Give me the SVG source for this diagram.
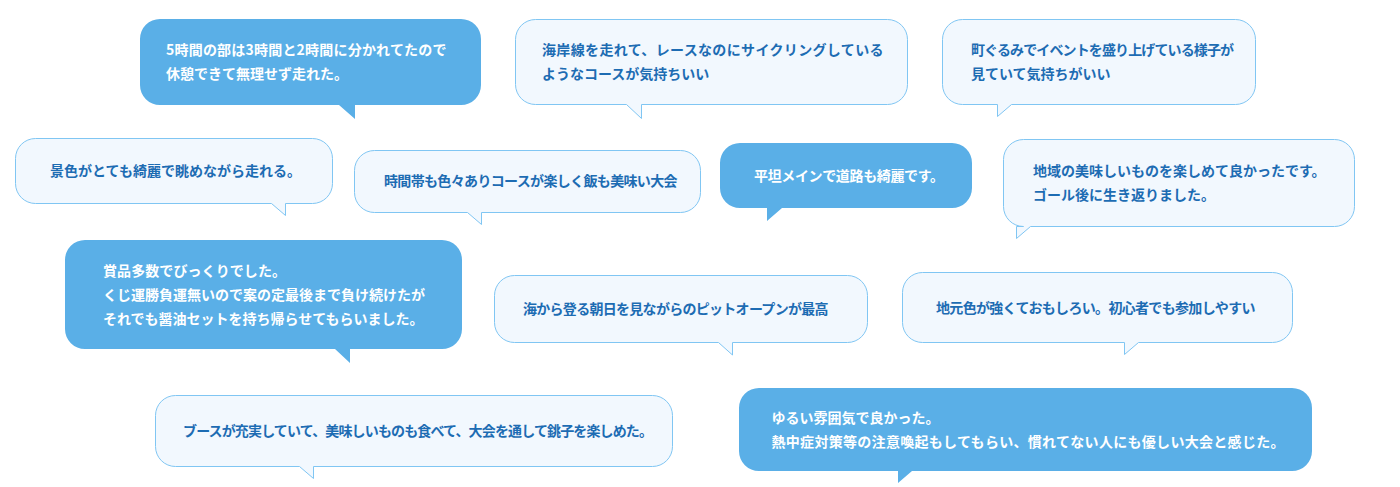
<svg xmlns="http://www.w3.org/2000/svg" width="1400" height="487" viewBox="0 0 1400 487">
<style>
.dk{fill:#5aafe7;stroke:none}
.lt{fill:#f2f8fe;stroke:#80c6f3;stroke-width:1}
text{font-family:"Noto Sans CJK JP","Noto Sans CJK SC",sans-serif;font-size:14px;font-weight:700}
.tw{fill:#ffffff}
.tb{fill:#1d6cb3}
</style>
<rect width="1400" height="487" fill="#ffffff"/>
<g id="b1">
<path class="dk" d="M160,19 H461 A20,20 0 0 1 481,39 V85 A20,20 0 0 1 461,105 H355 V119 L339,105 H160 A20,20 0 0 1 140,85 V39 A20,20 0 0 1 160,19 Z"/>
<text class="tw" x="166" y="55" textLength="280.5" lengthAdjust="spacing">5時間の部は3時間と2時間に分かれてたので</text>
<text class="tw" x="166" y="79">休憩できて無理せず走れた。</text>
</g>
<g id="b2">
<path class="lt" d="M535.5,19.5 H887.5 A20,20 0 0 1 907.5,39.5 V84.5 A20,20 0 0 1 887.5,104.5 H641.5 V118.5 L626.5,104.5 H535.5 A20,20 0 0 1 515.5,84.5 V39.5 A20,20 0 0 1 535.5,19.5 Z"/>
<text class="tb" x="542" y="55" textLength="341.5" lengthAdjust="spacing">海岸線を走れて、レースなのにサイクリングしている</text>
<text class="tb" x="542" y="79">ようなコースが気持ちいい</text>
</g>
<g id="b3">
<path class="lt" d="M962.5,19.5 H1235.5 A20,20 0 0 1 1255.5,39.5 V84.5 A20,20 0 0 1 1235.5,104.5 H1011.5 L997.5,116.5 V104.5 H962.5 A20,20 0 0 1 942.5,84.5 V39.5 A20,20 0 0 1 962.5,19.5 Z"/>
<text class="tb" x="971" y="55" textLength="263" lengthAdjust="spacing">町ぐるみでイベントを盛り上げている様子が</text>
<text class="tb" x="971" y="79">見ていて気持ちがいい</text>
</g>
<g id="b4">
<path class="lt" d="M35.5,138.5 H312.5 A20,20 0 0 1 332.5,158.5 V183.5 A20,20 0 0 1 312.5,203.5 H285.5 V215.5 L271.5,203.5 H35.5 A20,20 0 0 1 15.5,183.5 V158.5 A20,20 0 0 1 35.5,138.5 Z"/>
<text class="tb" x="50" y="176">景色がとても綺麗で眺めながら走れる。</text>
</g>
<g id="b5">
<path class="lt" d="M374.5,150.5 H680.5 A20,20 0 0 1 700.5,170.5 V192.5 A20,20 0 0 1 680.5,212.5 H481.5 V224.5 L467.5,212.5 H374.5 A20,20 0 0 1 354.5,192.5 V170.5 A20,20 0 0 1 374.5,150.5 Z"/>
<text class="tb" x="384" y="186" textLength="293.5" lengthAdjust="spacing">時間帯も色々ありコースが楽しく飯も美味い大会</text>
</g>
<g id="b6">
<path class="dk" d="M740,143 H952 A20,20 0 0 1 972,163 V188 A20,20 0 0 1 952,208 H782 L767,221 V208 H740 A20,20 0 0 1 720,188 V163 A20,20 0 0 1 740,143 Z"/>
<text class="tw" x="754" y="181" textLength="190" lengthAdjust="spacing">平坦メインで道路も綺麗です。</text>
</g>
<g id="b7">
<path class="lt" d="M1023.5,139.5 H1334.5 A20,20 0 0 1 1354.5,159.5 V206.5 A20,20 0 0 1 1334.5,226.5 H1030.5 L1016.5,238.5 V226.5 H1023.5 A20,20 0 0 1 1003.5,206.5 V159.5 A20,20 0 0 1 1023.5,139.5 Z"/>
<text class="tb" x="1033" y="176">地域の美味しいものを楽しめて良かったです。</text>
<text class="tb" x="1033" y="200">ゴール後に生き返りました。</text>
</g>
<g id="b8">
<path class="dk" d="M85,240 H442 A20,20 0 0 1 462,260 V329 A20,20 0 0 1 442,349 H350 V363 L335,349 H85 A20,20 0 0 1 65,329 V260 A20,20 0 0 1 85,240 Z"/>
<text class="tw" x="103" y="276" textLength="183" lengthAdjust="spacing">賞品多数でびっくりでした。</text>
<text class="tw" x="103" y="300">くじ運勝負運無いので案の定最後まで負け続けたが</text>
<text class="tw" x="103" y="324">それでも醤油セットを持ち帰らせてもらいました。</text>
</g>
<g id="b9">
<path class="lt" d="M514.5,275.5 H847.5 A20,20 0 0 1 867.5,295.5 V322.5 A20,20 0 0 1 847.5,342.5 H732.5 V355 L718.5,342.5 H514.5 A20,20 0 0 1 494.5,322.5 V295.5 A20,20 0 0 1 514.5,275.5 Z"/>
<text class="tb" x="523" y="314" textLength="305.5" lengthAdjust="spacing">海から登る朝日を見ながらのピットオープンが最高</text>
</g>
<g id="b10">
<path class="lt" d="M922.5,272.5 H1272.5 A20,20 0 0 1 1292.5,292.5 V322.5 A20,20 0 0 1 1272.5,342.5 H1138.5 L1124.5,354.5 V342.5 H922.5 A20,20 0 0 1 902.5,322.5 V292.5 A20,20 0 0 1 922.5,272.5 Z"/>
<text class="tb" x="936" y="312.5" textLength="319.5" lengthAdjust="spacing">地元色が強くておもしろい。初心者でも参加しやすい</text>
</g>
<g id="b11">
<path class="lt" d="M175.5,395.5 H652.5 A20,20 0 0 1 672.5,415.5 V446.5 A20,20 0 0 1 652.5,466.5 H313.5 V478.5 L299.5,466.5 H175.5 A20,20 0 0 1 155.5,446.5 V415.5 A20,20 0 0 1 175.5,395.5 Z"/>
<text class="tb" x="183" y="436" textLength="470" lengthAdjust="spacing">ブースが充実していて、美味しいものも食べて、大会を通して銚子を楽しめた。</text>
</g>
<g id="b12">
<path class="dk" d="M759,388 H1292 A20,20 0 0 1 1312,408 V451 A20,20 0 0 1 1292,471 H912 L898,483 V471 H759 A20,20 0 0 1 739,451 V408 A20,20 0 0 1 759,388 Z"/>
<text class="tw" x="771.5" y="422.5">ゆるい雰囲気で良かった。</text>
<text class="tw" x="771.5" y="446.5" textLength="513" lengthAdjust="spacing">熱中症対策等の注意喚起もしてもらい、慣れてない人にも優しい大会と感じた。</text>
</g>
<g id="connectors"></g>
</svg>
